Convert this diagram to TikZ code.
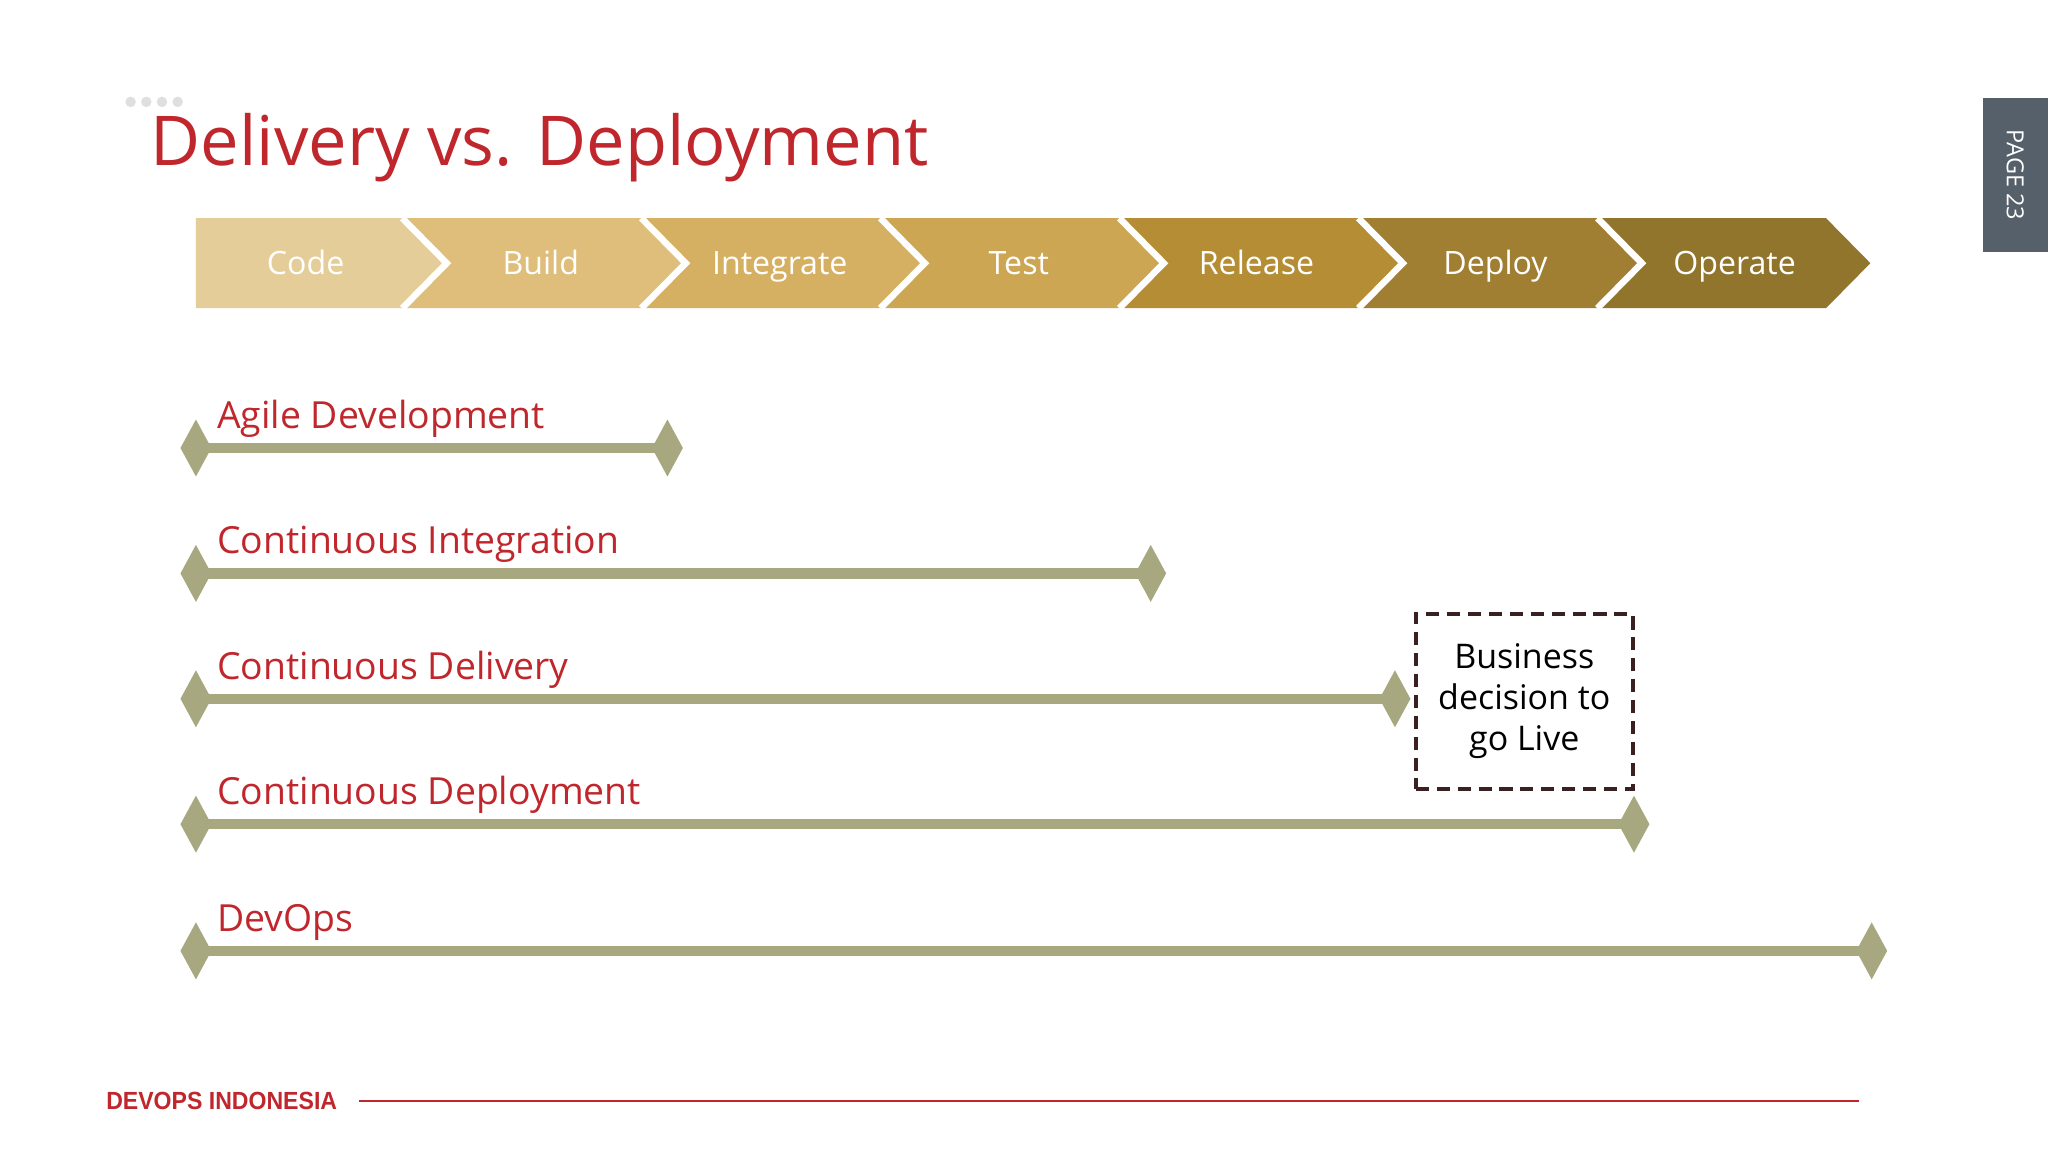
\documentclass[tikz,border=0pt]{standalone}
\usepackage{fontspec}
\setmainfont{Open Sans}
\newfontfamily\footfont{Liberation Sans}
\usetikzlibrary{shapes.geometric}
\definecolor{red1}{RGB}{192,39,45}
\definecolor{bar}{RGB}{168,168,128}
\definecolor{tab}{RGB}{86,96,107}
\definecolor{boxc}{RGB}{58,32,32}
\definecolor{c0}{RGB}{228,205,152}
\definecolor{c1}{RGB}{222,190,122}
\definecolor{c2}{RGB}{214,176,98}
\definecolor{c3}{RGB}{205,166,84}
\definecolor{c4}{RGB}{180,141,52}
\definecolor{c5}{RGB}{160,126,50}
\definecolor{c6}{RGB}{145,117,45}
\begin{document}
\begin{tikzpicture}[x=0.5pt,y=-0.5pt,
  dia/.style={diamond,fill=bar,inner sep=0pt,minimum width=12pt,minimum height=22pt},
  barl/.style={bar,line width=4pt},
  lab/.style={text=red1,font=\fontsize{14.3}{17}\selectfont,anchor=base west,inner sep=0pt},
  sep/.style={draw=white,line width=2.5pt,line join=miter},
  ctext/.style={text=white,font=\fontsize{12.3}{15}\selectfont,anchor=base,inner sep=0pt}]
\useasboundingbox (0,0) rectangle (1568,882);
\fill[white] (0,0) rectangle (1568,882);
% dots
\foreach \x in {100,112,124,136} \fill[gray!25] (\x,78) circle (4);
\node[text=red1,font=\fontsize{26.3}{30}\selectfont,anchor=base west,inner sep=0pt] (title) at (115,127) {Delivery vs. Deployment};
% tab
\fill[tab] (1518,75) rectangle (1568,193);
\node[rotate=-90,text=white,font=\fontsize{9}{11}\selectfont] (page) at (1543,134) {PAGE 23};
% chevrons
\def\ya{167}\def\yb{236}\def\ym{201.5}
\fill[c0] (150,\ya) -- (308,\ya) -- (342,\ym) -- (308,\yb) -- (150,\yb) -- cycle;
\foreach \a/\b/\c in {308/491/c1,491/674/c2,674/857/c3,857/1040/c4,1040/1223/c5,1223/1398/c6}{
  \fill[\c] (\a,\ya) -- (\b,\ya) -- ({\b+34},\ym) -- (\b,\yb) -- (\a,\yb) -- ({\a+34},\ym) -- cycle;
}
\foreach \a in {308,491,674,857,1040,1223}{
  \draw[sep] (\a,\ya) -- ({\a+34},\ym) -- (\a,\yb);
}
\node[ctext] (code) at (234,210) {Code};
\node[ctext] (build) at (414,210) {Build};
\node[ctext] (integ) at (597,210) {Integrate};
\node[ctext] (test) at (780,210) {Test};
\node[ctext] (rel) at (962,210) {Release};
\node[ctext] (dep) at (1145,210) {Deploy};
\node[ctext] (op) at (1328,210) {Operate};
% bars
\foreach \n/\xe/\y/\t in {a/511/343/Agile Development,b/881/439/Continuous Integration,c/1068/535/Continuous Delivery,d/1251/631/Continuous Deployment,e/1433/728/DevOps}{
  \node[dia] (\n1) at (150,\y) {};
  \node[dia] (\n2) at (\xe,\y) {};
  \draw[barl] (\n1.center) -- (\n2.center);
  \node[lab] (\n l) at (166,{\y-15}) {\t};
}
% box
\node[draw=boxc,dashed,line width=1.6pt,dash pattern=on 5pt off 3pt,minimum width=83pt,minimum height=67pt,align=center,font=\fontsize{13}{15.7}\selectfont,inner sep=0pt] (biz) at (1167,537) {Business\\decision to\\go Live};
% footer
\node[text=red1,font=\footfont\bfseries\fontsize{9.5}{11}\selectfont,anchor=west,inner sep=0pt,xscale=0.93] (foot) at (81,843) {DEVOPS INDONESIA};
\coordinate (fl) at (275,843);
\coordinate (fr) at (1423,843);
\draw[red1,line width=0.6pt] (fl) -- (fr);
\end{tikzpicture}
\end{document}
